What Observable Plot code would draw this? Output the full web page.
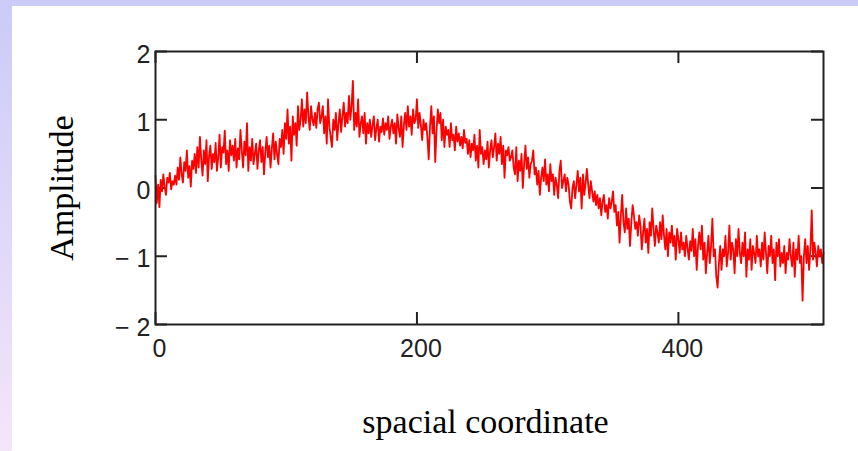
<!DOCTYPE html>
<html><head><meta charset="utf-8">
<script src="https://cdn.jsdelivr.net/npm/d3@7"></script>
<script src="https://cdn.jsdelivr.net/npm/@observablehq/plot@0.6"></script>
<style>
html,body{margin:0;padding:0;width:858px;height:451px;overflow:hidden;background:linear-gradient(to bottom,#cbcbf8,#f4e5f9);}
#panel{position:absolute;left:12px;top:6px;width:846px;height:445px;background:#fff;}
#panel svg{display:block;}
</style></head><body><div id="panel"></div>
<script>
const amplitude = [
 0.18,-0.22,0.05,-0.28,0.12,-0.05,0.2,0.02,-0.1,0.15,0.08,0.22,-0.02,0.1,0.05,0.18,
 0.05,0.3,0.12,0.45,0.2,0.08,0.38,0.25,0.55,0.15,0.32,0.02,0.4,0.28,0.5,0.22,
 0.6,0.3,0.75,0.42,0.18,0.55,0.35,0.7,0.1,0.48,0.62,0.28,0.5,0.38,0.66,0.25,
 0.45,0.78,0.3,0.6,0.52,0.84,0.35,0.55,0.25,0.7,0.48,0.62,0.4,0.72,0.3,0.58,
 0.42,0.85,0.55,0.3,0.68,0.48,0.95,0.25,0.6,0.4,0.72,0.35,0.5,0.65,0.28,0.55,
 0.7,0.38,0.6,0.2,0.52,0.75,0.45,0.62,0.3,0.58,0.8,0.42,0.68,0.5,0.35,0.72,
 0.6,0.85,0.5,0.95,0.72,1.15,0.65,0.9,0.4,1.05,0.78,0.95,0.62,1.2,0.85,1.0,
 1.3,0.9,1.15,0.95,1.4,1.05,0.85,1.2,1.0,0.92,1.1,0.88,1.15,1.25,0.95,1.05,
 1.2,0.8,1.05,0.65,1.3,0.9,0.75,0.6,1.0,0.85,1.1,0.7,0.95,1.15,0.82,1.05,
 1.25,0.9,1.1,0.95,1.35,1.0,1.2,1.57,0.85,1.1,0.9,1.3,0.75,0.95,1.05,0.8,
 1.1,0.65,0.95,0.8,1.0,0.75,0.92,1.05,0.7,0.88,1.0,0.68,0.9,0.82,1.02,0.78,
 0.95,0.85,1.05,0.72,0.9,1.0,0.8,0.95,0.65,1.08,0.88,0.75,1.05,0.6,0.92,1.1,
 0.85,1.2,0.9,1.05,0.78,1.15,0.95,1.0,1.3,0.88,1.1,0.92,0.7,1.0,0.85,0.95,
 0.75,0.42,0.9,1.2,0.8,1.05,0.38,0.85,1.15,0.95,1.1,0.7,1.0,0.6,0.9,0.78,
 0.85,0.6,0.95,0.7,0.78,0.55,0.9,0.68,0.8,0.62,0.75,0.58,0.85,0.66,0.72,0.5,
 0.7,0.45,0.65,0.55,0.78,0.4,0.62,0.3,0.85,0.5,0.6,0.35,0.55,0.42,0.68,0.3,
 0.55,0.7,0.45,0.6,0.8,0.4,0.65,0.5,0.75,0.35,0.62,0.15,0.55,0.48,0.6,0.4,
 0.45,0.55,0.3,0.2,0.6,0.1,0.4,0.25,0.5,0.0,0.35,0.62,0.28,0.45,0.15,0.35,
 0.4,0.55,0.2,0.3,0.05,0.25,-0.1,0.15,0.3,0.1,0.42,0.05,0.2,-0.05,0.35,0.1,
 0.2,-0.1,0.15,0.05,-0.15,0.25,0.4,0.0,0.1,0.2,-0.05,0.15,0.05,-0.2,-0.3,0.0,
 0.1,-0.15,0.05,0.25,-0.05,0.15,-0.3,0.2,-0.1,0.08,0.28,0.05,-0.15,0.1,-0.05,-0.2,
 -0.05,-0.25,-0.1,-0.3,-0.15,-0.4,-0.2,-0.1,-0.35,-0.25,-0.45,-0.15,-0.3,-0.2,-0.05,-0.35,
 -0.25,-0.55,-0.35,-0.8,-0.4,-0.1,-0.5,-0.65,-0.3,-0.6,-0.45,-0.85,-0.5,-0.25,-0.4,-0.6,
 -0.5,-0.7,-0.4,-0.55,-0.9,-0.65,-0.45,-0.8,-0.6,-0.95,-0.5,-0.7,-0.3,-0.6,-0.85,-0.55,
 -0.65,-0.8,-0.5,-0.75,-0.4,-0.7,-0.9,-0.6,-1.0,-0.65,-0.8,-0.55,-0.85,-0.7,-1.05,-0.6,
 -0.75,-0.95,-0.65,-0.9,-0.8,-1.0,-0.7,-0.88,-1.05,-0.78,-0.92,-0.6,-1.0,-0.75,-1.2,-0.85,
 -0.65,-0.9,-0.55,-1.05,-0.8,-1.25,-0.95,-0.7,-1.1,-0.85,-0.45,-1.0,-0.9,-1.3,-1.46,-1.1,
 -0.85,-1.2,-0.9,-1.0,-0.7,-1.15,-0.95,-0.55,-1.05,-0.8,-0.9,-1.25,-0.75,-1.0,-0.6,-0.95,
 -1.1,-0.8,-1.0,-0.65,-1.3,-0.9,-1.05,-0.75,-1.2,-0.85,-0.95,-1.1,-0.7,-1.0,-0.9,-1.15,
 -0.8,-1.05,-0.65,-0.95,-1.25,-0.85,-1.0,-0.7,-1.1,-0.9,-1.35,-0.8,-1.0,-0.75,-1.15,-0.95,
 -1.1,-0.85,-1.25,-0.95,-1.05,-0.75,-1.0,-1.15,-0.8,-1.3,-0.9,-1.05,-0.7,-1.1,-1.0,-1.65,
 -1.0,-0.75,-1.1,-0.85,-1.2,-0.9,-0.33,-1.05,-0.8,-0.95,-1.15,-0.85,-1.0,-0.9,-1.1,-0.95
];
const xTicks = [0, 200, 400];
const yTicks = [-2, -1, 0, 1, 2];
const xDomain = [0, 511];
const yDomain = [-2, 2];
const xLabel = "spacial coordinate";
const yLabel = "Amplitude";

const data = amplitude.map((v, i) => ({coord: i, amp: v}));

const W = 846, H = 445, mL = 143, mR = 35, mT = 45, mB = 127;
const innerW = W - mL - mR, innerH = H - mT - mB, TL = 12;
const tickFont = '"Liberation Sans Narrow","Arial Narrow","Liberation Sans",Arial,sans-serif';
const serif = '"Liberation Serif","Times New Roman",serif';
const fmt = d => d < 0 ? "\u2212 " + Math.abs(d) : String(d);
const ink = "#222";

const chart = Plot.plot({
  width: W, height: H,
  marginLeft: mL, marginRight: mR, marginTop: mT, marginBottom: mB,
  x: {domain: xDomain},
  y: {domain: yDomain},
  style: {background: "transparent", fontFamily: tickFont, fontSize: "25px", color: ink},
  marks: [
    Plot.axisY(yTicks, {anchor: "left", tickSize: 0, tickPadding: 5, dy: 3, tickFormat: fmt, label: null, fontSize: 25, fill: ink}),
    Plot.axisX(xTicks, {anchor: "bottom", tickSize: 0, tickPadding: 15, dx: 4, tickFormat: fmt, label: null, fontSize: 25, fill: ink}),
    Plot.tickY(yTicks, {y: d => d, insetRight: innerW - TL, stroke: ink, strokeWidth: 2}),
    Plot.tickY(yTicks, {y: d => d, insetLeft: innerW - TL, stroke: ink, strokeWidth: 2}),
    Plot.tickX(xTicks, {x: d => d, insetTop: innerH - TL, stroke: ink, strokeWidth: 2}),
    Plot.tickX(xTicks, {x: d => d, insetBottom: innerH - TL, stroke: ink, strokeWidth: 2}),
    Plot.line(data, {x: "coord", y: "amp", stroke: "#ff0000", strokeWidth: 1.8}),
    Plot.frame({stroke: ink, strokeWidth: 2}),
    Plot.text([xLabel], {text: d => d, frameAnchor: "bottom", textAnchor: "middle", lineAnchor: "middle", dy: 98, dx: -4, fontFamily: serif, fontSize: 34, fill: "#000"}),
    Plot.text([yLabel], {text: d => d, frameAnchor: "left", textAnchor: "middle", lineAnchor: "middle", dx: -93, rotate: -90, fontFamily: serif, fontSize: 34, fill: "#000"})
  ]
});
document.getElementById("panel").appendChild(chart);
</script>
</body></html>
